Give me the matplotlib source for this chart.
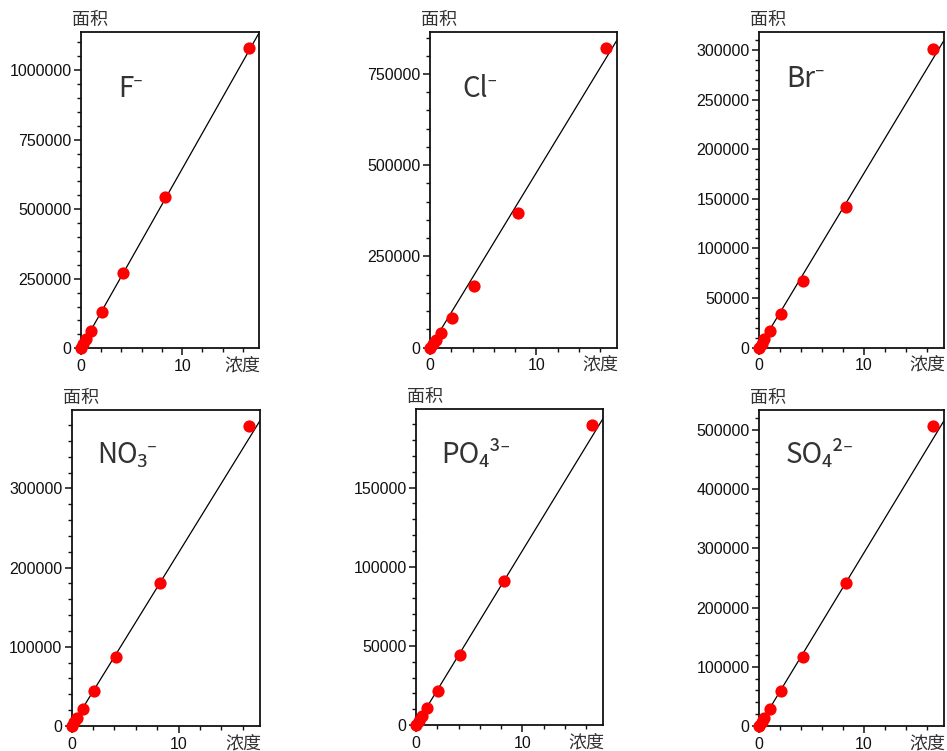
import numpy as np
import matplotlib
matplotlib.use("Agg")
import matplotlib.pyplot as plt
from matplotlib.ticker import MultipleLocator, FormatStrFormatter

plt.rcParams['font.family'] = ['Liberation Sans', 'DejaVu Sans']

# concentration levels (same for every ion)
conc = [0, 0.26, 0.52, 1.04, 2.07, 4.14, 8.28, 16.55]

ions = ["F⁻", "Cl⁻", "Br⁻", "NO₃⁻", "PO₄³⁻", "SO₄²⁻"]

area_F = [0, 16500, 32000, 63000, 132000, 270000, 545000, 1079000]
area_Cl = [0, 10500, 20500, 41000, 81000, 168000, 369000, 820000]
area_Br = [0, 4000, 8200, 16500, 33500, 67500, 141500, 301500]
area_NO3 = [0, 5300, 10500, 21000, 44000, 87500, 180000, 378500]
area_PO4 = [0, 2700, 5500, 11000, 21800, 44500, 91000, 189500]
area_SO4 = [0, 7000, 14200, 28700, 59000, 117000, 241000, 506500]
areas = [area_F, area_Cl, area_Br, area_NO3, area_PO4, area_SO4]

# calibration line slopes (area per unit concentration)
slopes = [64500, 47900, 17600, 21900, 11020, 29300]

# axis settings
y_max = [1138000, 866000, 318500, 398900, 199500, 533800]
y_major = [250000, 250000, 50000, 100000, 50000, 100000]
y_minor = [50000, 50000, 10000, 20000, 10000, 20000]
x_max = 17.6

# axes boxes in pixels: left, right, top, bottom
W, H = 947, 751
boxes = [
    (80.7, 259.3, 31.7, 348.3),
    (430, 617, 31.7, 347.5),
    (759, 944, 31.7, 347.5),
    (71.7, 260, 410, 726),
    (416, 603.3, 409.3, 725),
    (759, 944, 410, 726),
]
# ion label (left, baseline) in pixels
label_pos = [(118, 97), (462, 97), (786, 87), (97, 463), (441, 463), (786, 463)]

fig = plt.figure(figsize=(W / 100, H / 100), dpi=100)

for i in range(6):
    l, r, t, b = boxes[i]
    ax = fig.add_axes([l / W, 1 - b / H, (r - l) / W, (b - t) / H])
    ax.set_xlim(0, x_max)
    ax.set_ylim(0, y_max[i])

    xs = np.array([0, x_max])
    ax.plot(xs, xs * slopes[i], color="black", lw=0.9, zorder=2)
    ax.plot(conc, areas[i], "o", color="#ff0000", ms=8.8, mec="none",
            clip_on=False, zorder=3)

    ax.xaxis.set_major_locator(MultipleLocator(10))
    ax.xaxis.set_minor_locator(MultipleLocator(2))
    ax.yaxis.set_major_locator(MultipleLocator(y_major[i]))
    ax.yaxis.set_minor_locator(MultipleLocator(y_minor[i]))
    ax.yaxis.set_major_formatter(FormatStrFormatter("%d"))
    ax.xaxis.set_major_formatter(FormatStrFormatter("%d"))
    ax.tick_params(which="major", length=5.2, width=1.1, labelsize=11.5,
                   pad=1.5, colors="#111111")
    ax.tick_params(which="minor", length=2.8, width=1.0, colors="#111111")
    ax.tick_params(axis="x", which="major", pad=2.5)
    for s in ax.spines.values():
        s.set_linewidth(1.3)
        s.set_color("#111111")

    ax.annotate("面积", xy=(0, 1), xycoords="axes fraction",
                xytext=(-9, 3), textcoords="offset pixels",
                ha="left", va="bottom", fontsize=13, color="#333333",
                family=["Noto Sans CJK SC", "DejaVu Sans"])
    ax.annotate("浓度", xy=(1, 0), xycoords="axes fraction",
                xytext=(1, -8), textcoords="offset pixels",
                ha="right", va="top", fontsize=13, color="#333333",
                family=["Noto Sans CJK SC", "DejaVu Sans"])

    lx, ly = label_pos[i]
    fig.text(lx / W, 1 - ly / H, ions[i], ha="left", va="baseline",
             fontsize=20, color="#333333", fontweight="light",
             family=["Noto Sans CJK SC", "Noto Sans", "DejaVu Sans"])

fig.savefig("out.png", dpi=100)
